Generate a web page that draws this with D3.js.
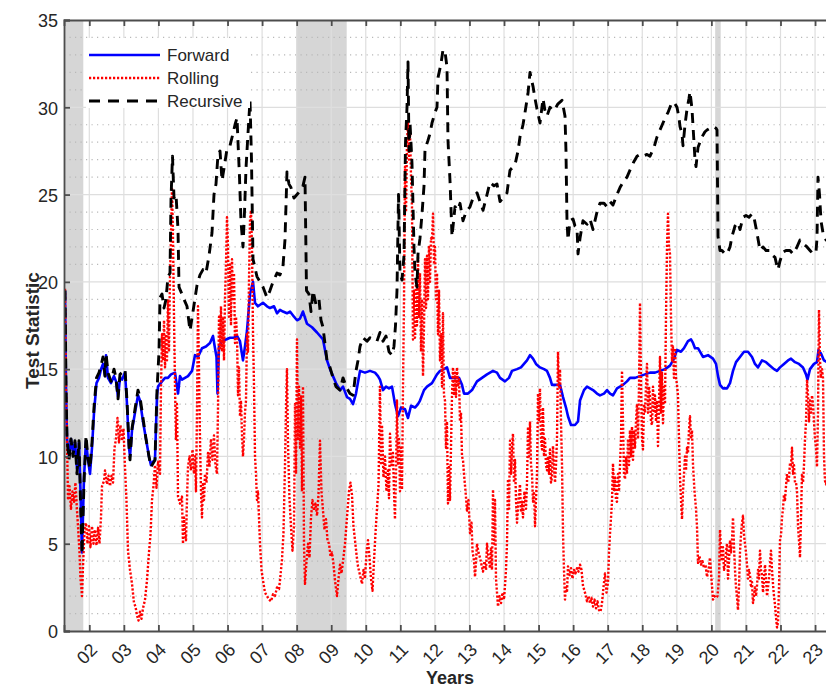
<!DOCTYPE html>
<meta charset="utf-8">
<style>
    body { margin: 0; padding: 0; background: #fff; }
    text { font-family: "Liberation Sans", Arial, sans-serif; fill: #262626; }
    .grid-major { stroke: #dedede; stroke-width: 1.2; }
    .grid-minor { stroke: #b8b8b8; stroke-width: 1.2; stroke-dasharray: 1.2,4.3; }
</style>
<body>
<script src="https://d3js.org/d3.v7.min.js"></script>
<script>
    // Test statistics, [decimal year, value]
    var forwardData = [[2001.297,19.5],[2001.326,14],[2001.355,11],[2001.413,10.0],[2001.470,11.0],[2001.528,10.3],[2001.586,10.8],[2001.644,9.3],[2001.702,10.8],[2001.745,8],[2001.789,4.5],[2001.847,8.8],[2001.905,10.9],[2001.962,9.8],[2002.020,9.0],[2002.078,10.5],[2002.136,12.5],[2002.208,14.2],[2002.281,14.5],[2002.339,15.0],[2002.397,15.3],[2002.455,14.6],[2002.484,15.8],[2002.541,14.5],[2002.628,14.2],[2002.715,14.6],[2002.773,14.3],[2002.831,13.4],[2002.888,14.5],[2002.946,14.4],[2003.033,14.8],[2003.091,13.0],[2003.149,10.5],[2003.178,10.0],[2003.236,11.5],[2003.322,12.5],[2003.409,13.5],[2003.467,13.2],[2003.554,12.0],[2003.641,11.0],[2003.727,10.0],[2003.785,9.5],[2003.843,9.7],[2003.901,9.8],[2003.959,13.5],[2003.988,14.0],[2004.104,14.3],[2004.191,14.5],[2004.277,14.5],[2004.364,14.7],[2004.480,14.8],[2004.567,13.6],[2004.624,14.6],[2004.682,14.4],[2004.769,14.5],[2004.856,14.6],[2004.972,14.9],[2005.058,15.8],[2005.145,15.7],[2005.261,16.2],[2005.377,16.3],[2005.492,16.5],[2005.579,16.9],[2005.637,16.2],[2005.681,15.7],[2005.710,13.6],[2005.753,16.3],[2005.840,16.6],[2005.955,16.7],[2006.071,16.8],[2006.187,16.8],[2006.274,16.9],[2006.360,16.6],[2006.447,15.5],[2006.505,16.3],[2006.563,17.2],[2006.650,19.3],[2006.737,20.0],[2006.795,18.8],[2006.881,18.6],[2007.026,18.8],[2007.142,18.6],[2007.228,18.5],[2007.344,18.6],[2007.431,18.2],[2007.518,18.4],[2007.604,18.3],[2007.720,18.2],[2007.807,18.3],[2007.923,18.0],[2008.010,17.8],[2008.097,17.9],[2008.183,18.3],[2008.299,17.6],[2008.444,17.4],[2008.589,17.1],[2008.762,16.7],[2008.878,15.5],[2008.965,15.0],[2009.051,14.6],[2009.138,14.2],[2009.254,13.8],[2009.341,14.0],[2009.456,13.4],[2009.543,13.3],[2009.630,13.0],[2009.717,13.6],[2009.833,14.9],[2009.977,14.8],[2010.122,14.9],[2010.267,14.8],[2010.353,14.6],[2010.411,14.4],[2010.498,13.8],[2010.585,14.0],[2010.672,13.9],[2010.759,14.0],[2010.845,13.0],[2010.932,12.3],[2011.019,12.8],[2011.135,12.7],[2011.222,12.2],[2011.309,12.9],[2011.424,12.8],[2011.511,13.0],[2011.569,13.2],[2011.685,13.8],[2011.772,14.0],[2011.916,14.2],[2012.061,14.7],[2012.148,14.9],[2012.263,15.0],[2012.350,15.1],[2012.437,14.5],[2012.582,14.5],[2012.697,14.5],[2012.784,14.1],[2012.842,13.6],[2012.958,13.6],[2013.074,13.8],[2013.218,14.3],[2013.363,14.5],[2013.508,14.7],[2013.681,14.9],[2013.797,14.8],[2013.884,14.5],[2014.028,14.3],[2014.144,14.5],[2014.231,14.9],[2014.376,15.0],[2014.491,15.1],[2014.578,15.3],[2014.665,15.5],[2014.752,15.8],[2014.839,15.6],[2014.925,15.3],[2015.041,15.1],[2015.157,15.0],[2015.244,14.9],[2015.330,14.5],[2015.388,14.1],[2015.504,14.1],[2015.620,14.1],[2015.707,13.4],[2015.793,12.8],[2015.851,12.3],[2015.938,11.8],[2016.054,11.8],[2016.141,12.0],[2016.199,13.2],[2016.314,13.8],[2016.401,14.0],[2016.488,13.9],[2016.575,13.8],[2016.690,13.6],[2016.777,13.5],[2016.893,13.6],[2016.980,13.8],[2017.067,13.6],[2017.153,13.5],[2017.269,13.9],[2017.356,14.0],[2017.443,14.1],[2017.558,14.3],[2017.645,14.5],[2017.790,14.5],[2017.935,14.6],[2018.079,14.7],[2018.224,14.8],[2018.369,14.8],[2018.513,14.9],[2018.658,15.0],[2018.803,15.2],[2018.918,15.6],[2019.005,16.1],[2019.121,16.0],[2019.208,16.2],[2019.323,16.6],[2019.410,16.7],[2019.468,16.5],[2019.526,16.2],[2019.613,16.2],[2019.671,16.0],[2019.757,15.7],[2019.902,15.8],[2020.047,15.6],[2020.134,15.3],[2020.192,14.6],[2020.250,14.1],[2020.336,13.9],[2020.452,13.9],[2020.539,14.2],[2020.626,14.9],[2020.713,15.4],[2020.828,15.7],[2020.944,16.0],[2021.060,16.0],[2021.176,15.7],[2021.262,15.3],[2021.349,15.1],[2021.465,15.5],[2021.581,15.4],[2021.696,15.2],[2021.812,15.0],[2021.899,14.9],[2021.986,15.1],[2022.101,15.3],[2022.217,15.5],[2022.304,15.6],[2022.420,15.4],[2022.535,15.3],[2022.651,15.1],[2022.738,14.7],[2022.781,14.4],[2022.854,15.0],[2022.969,15.3],[2023.056,15.4],[2023.100,16.1],[2023.172,15.9],[2023.259,15.5],[2023.346,15.4],[2023.462,15.5]];

    var rollingData = [[2001.297,19.6],[2001.326,14],[2001.355,11],[2001.384,7.5],[2001.427,8.3],[2001.470,7.0],[2001.513,8.0],[2001.557,7.4],[2001.600,8.5],[2001.644,6.9],[2001.673,6.0],[2001.716,4.5],[2001.745,3.0],[2001.789,2.0],[2001.818,3.7],[2001.861,5.8],[2001.905,6.2],[2001.948,5.0],[2001.991,6.0],[2002.034,4.8],[2002.078,6.0],[2002.121,5.0],[2002.165,5.8],[2002.208,4.9],[2002.252,5.9],[2002.295,5.0],[2002.339,6.5],[2002.368,8.3],[2002.426,8.6],[2002.455,9.2],[2002.512,8.4],[2002.556,8.9],[2002.599,8.3],[2002.642,8.9],[2002.686,8.5],[2002.729,10.5],[2002.773,11.0],[2002.816,12.2],[2002.859,10.8],[2002.902,11.8],[2002.946,10.9],[2002.989,11.6],[2003.033,9.4],[2003.076,7.5],[2003.120,4.6],[2003.178,3.5],[2003.236,2.7],[2003.294,1.6],[2003.337,1.4],[2003.380,0.9],[2003.424,0.6],[2003.467,1.1],[2003.510,0.7],[2003.554,1.3],[2003.612,1.8],[2003.669,2.9],[2003.727,4.5],[2003.770,5.5],[2003.814,7.5],[2003.857,8.3],[2003.901,9.5],[2003.944,8.2],[2003.988,9.7],[2004.046,9.0],[2004.075,14.0],[2004.104,17.0],[2004.133,15.5],[2004.162,17.8],[2004.191,15.1],[2004.219,17.0],[2004.248,15.5],[2004.277,19.0],[2004.306,16.0],[2004.335,20.3],[2004.364,22.5],[2004.393,25.4],[2004.422,22.5],[2004.451,18.0],[2004.480,14.0],[2004.509,11.0],[2004.538,13.0],[2004.567,7.7],[2004.624,7.3],[2004.682,7.7],[2004.711,5.0],[2004.740,6.5],[2004.769,5.6],[2004.798,5.2],[2004.827,7.5],[2004.856,9.4],[2004.899,10.0],[2004.943,9.2],[2004.986,10.4],[2005.030,9.0],[2005.058,10.0],[2005.087,8.0],[2005.116,12.5],[2005.145,18.6],[2005.174,15.0],[2005.203,11.0],[2005.232,8.0],[2005.261,6.5],[2005.290,8.5],[2005.319,7.5],[2005.348,9.0],[2005.391,8.5],[2005.434,10.2],[2005.478,9.4],[2005.521,11.0],[2005.564,9.8],[2005.608,11.2],[2005.651,9.5],[2005.695,9.0],[2005.724,12.8],[2005.753,18.0],[2005.782,16.2],[2005.811,18.6],[2005.840,16.0],[2005.869,18.0],[2005.898,15.5],[2005.926,19.0],[2005.955,21.0],[2005.984,23.7],[2006.013,22.0],[2006.042,18.0],[2006.071,21.0],[2006.100,17.5],[2006.129,21.3],[2006.158,19.0],[2006.187,20.5],[2006.216,16.5],[2006.245,18.0],[2006.274,16.9],[2006.303,13.5],[2006.331,15.1],[2006.360,12.3],[2006.389,13.2],[2006.418,11.3],[2006.447,10.0],[2006.476,11.0],[2006.505,12.5],[2006.534,13.2],[2006.563,17.0],[2006.592,16.0],[2006.621,20.0],[2006.650,23.5],[2006.679,24.1],[2006.708,22.0],[2006.737,17.1],[2006.766,14.0],[2006.795,10.0],[2006.824,9.0],[2006.852,7.5],[2006.881,8.0],[2006.910,6.5],[2006.939,5.0],[2006.982,3.5],[2007.026,2.9],[2007.084,2.2],[2007.142,2.0],[2007.199,1.8],[2007.257,1.7],[2007.315,2.1],[2007.373,2.0],[2007.431,2.5],[2007.489,2.4],[2007.518,2.9],[2007.576,4.1],[2007.619,5.6],[2007.662,9.4],[2007.691,12.5],[2007.720,15.0],[2007.749,10.8],[2007.792,7.6],[2007.836,6.0],[2007.879,4.6],[2007.923,6.0],[2007.952,13.0],[2007.981,9.0],[2008.010,16.7],[2008.039,11.0],[2008.068,14.0],[2008.097,10.5],[2008.126,13.5],[2008.155,8.0],[2008.183,14.0],[2008.212,5.0],[2008.241,2.7],[2008.285,4.0],[2008.328,5.0],[2008.372,4.2],[2008.415,6.5],[2008.458,7.5],[2008.502,6.9],[2008.545,7.3],[2008.589,6.6],[2008.632,7.8],[2008.675,10.9],[2008.718,8.0],[2008.762,6.9],[2008.805,5.8],[2008.849,6.4],[2008.892,5.2],[2008.936,5.0],[2008.979,4.3],[2009.023,4.5],[2009.066,3.8],[2009.109,2.9],[2009.167,2.0],[2009.211,3.0],[2009.254,3.8],[2009.297,3.3],[2009.341,4.0],[2009.399,5.0],[2009.456,6.5],[2009.514,8.0],[2009.557,8.5],[2009.601,7.8],[2009.644,6.0],[2009.688,5.2],[2009.731,4.4],[2009.775,3.7],[2009.833,3.2],[2009.891,2.7],[2009.934,3.5],[2009.977,3.0],[2010.021,4.5],[2010.064,5.2],[2010.108,4.2],[2010.151,3.0],[2010.194,2.3],[2010.238,4.0],[2010.281,5.6],[2010.324,7.0],[2010.368,8.3],[2010.411,14.0],[2010.440,9.5],[2010.469,11.8],[2010.512,8.8],[2010.556,10.0],[2010.599,8.0],[2010.643,9.2],[2010.672,7.6],[2010.701,11.3],[2010.744,9.5],[2010.788,10.2],[2010.816,8.0],[2010.845,6.4],[2010.874,9.0],[2010.903,13.2],[2010.932,9.5],[2010.961,11.0],[2010.990,8.0],[2011.019,10.5],[2011.048,8.1],[2011.077,14.0],[2011.106,19.0],[2011.135,26.6],[2011.164,24.0],[2011.193,28.0],[2011.222,29.1],[2011.251,27.0],[2011.280,28.5],[2011.309,26.0],[2011.337,24.3],[2011.366,16.7],[2011.395,19.5],[2011.424,16.8],[2011.453,20.0],[2011.482,17.5],[2011.511,21.4],[2011.540,18.0],[2011.569,20.5],[2011.598,16.0],[2011.627,19.0],[2011.656,14.6],[2011.685,17.5],[2011.714,21.3],[2011.743,18.5],[2011.772,21.5],[2011.800,19.0],[2011.829,22.0],[2011.858,20.0],[2011.887,22.5],[2011.916,22.4],[2011.945,23.9],[2011.974,21.0],[2012.003,22.0],[2012.032,19.0],[2012.061,20.5],[2012.090,17.0],[2012.119,19.5],[2012.148,15.5],[2012.177,17.0],[2012.206,14.0],[2012.234,18.2],[2012.263,13.5],[2012.292,13.2],[2012.321,10.5],[2012.350,12.0],[2012.379,7.3],[2012.408,9.5],[2012.437,7.5],[2012.466,10.5],[2012.495,13.5],[2012.524,15.1],[2012.553,13.5],[2012.582,14.8],[2012.611,13.4],[2012.640,15.1],[2012.669,14.0],[2012.697,14.5],[2012.726,12.0],[2012.755,12.5],[2012.784,10.0],[2012.813,9.8],[2012.842,9.0],[2012.886,8.0],[2012.929,6.9],[2012.972,7.5],[2013.016,5.6],[2013.059,6.2],[2013.088,4.6],[2013.132,4.0],[2013.161,3.1],[2013.190,4.0],[2013.218,5.0],[2013.262,4.5],[2013.305,4.2],[2013.348,3.8],[2013.392,3.4],[2013.435,4.0],[2013.479,3.5],[2013.508,5.0],[2013.551,4.2],[2013.594,3.6],[2013.623,4.8],[2013.652,3.5],[2013.681,8.1],[2013.710,5.0],[2013.739,7.5],[2013.768,3.0],[2013.797,2.2],[2013.826,1.4],[2013.869,2.0],[2013.913,1.6],[2013.956,2.2],[2014.000,1.8],[2014.028,2.6],[2014.057,3.5],[2014.086,5.0],[2014.115,8.7],[2014.144,7.0],[2014.173,10.9],[2014.202,9.0],[2014.231,10.6],[2014.260,11.3],[2014.289,8.5],[2014.318,9.8],[2014.347,7.5],[2014.376,6.2],[2014.419,7.5],[2014.462,8.4],[2014.491,6.8],[2014.520,7.4],[2014.549,6.5],[2014.592,8.0],[2014.636,7.0],[2014.665,8.5],[2014.694,11.7],[2014.723,10.0],[2014.752,12.0],[2014.781,9.5],[2014.810,9.0],[2014.839,7.4],[2014.868,8.0],[2014.897,6.0],[2014.925,7.5],[2014.954,9.0],[2014.983,13.6],[2015.012,12.0],[2015.041,13.9],[2015.070,11.0],[2015.099,10.4],[2015.128,12.8],[2015.157,10.0],[2015.186,11.0],[2015.215,9.5],[2015.244,9.2],[2015.272,10.0],[2015.301,9.0],[2015.330,10.4],[2015.359,8.5],[2015.388,8.8],[2015.417,10.6],[2015.446,9.5],[2015.475,8.5],[2015.504,9.5],[2015.533,11.0],[2015.562,16.0],[2015.591,14.0],[2015.620,15.0],[2015.649,12.0],[2015.678,9.5],[2015.707,5.6],[2015.736,3.5],[2015.764,1.8],[2015.793,2.5],[2015.822,2.2],[2015.851,3.7],[2015.895,3.2],[2015.938,3.6],[2015.981,3.0],[2016.025,3.5],[2016.068,3.3],[2016.112,3.6],[2016.155,3.4],[2016.199,3.8],[2016.242,3.5],[2016.285,2.6],[2016.343,2.2],[2016.401,1.7],[2016.444,2.0],[2016.488,1.6],[2016.531,1.9],[2016.575,1.4],[2016.618,1.8],[2016.662,1.3],[2016.705,1.7],[2016.748,1.2],[2016.791,1.1],[2016.835,1.6],[2016.878,2.5],[2016.922,3.3],[2016.965,2.2],[2017.009,2.8],[2017.038,4.5],[2017.067,5.6],[2017.096,6.5],[2017.124,7.4],[2017.153,9.6],[2017.182,8.0],[2017.211,8.8],[2017.240,7.5],[2017.269,7.4],[2017.298,9.0],[2017.327,8.0],[2017.356,9.5],[2017.385,11.0],[2017.414,14.9],[2017.443,12.0],[2017.472,9.0],[2017.501,8.7],[2017.530,10.0],[2017.558,9.0],[2017.587,11.0],[2017.616,9.5],[2017.645,11.5],[2017.674,10.0],[2017.703,11.7],[2017.732,9.8],[2017.761,11.5],[2017.790,10.5],[2017.819,12.0],[2017.848,13.0],[2017.877,11.0],[2017.906,14.0],[2017.935,18.8],[2017.964,14.0],[2017.993,11.0],[2018.021,10.4],[2018.050,13.0],[2018.079,12.5],[2018.108,14.0],[2018.137,15.3],[2018.166,12.5],[2018.195,14.0],[2018.224,13.5],[2018.253,12.0],[2018.282,11.8],[2018.311,14.0],[2018.340,12.5],[2018.369,13.5],[2018.398,12.0],[2018.427,13.2],[2018.455,10.6],[2018.484,13.0],[2018.513,15.7],[2018.542,12.5],[2018.571,14.8],[2018.600,11.9],[2018.629,14.0],[2018.658,13.0],[2018.687,18.0],[2018.716,22.0],[2018.745,23.9],[2018.774,22.0],[2018.803,21.6],[2018.832,18.0],[2018.860,15.5],[2018.889,16.3],[2018.918,14.5],[2018.947,16.2],[2018.976,14.5],[2019.005,14.1],[2019.034,13.5],[2019.063,11.0],[2019.092,8.8],[2019.121,7.5],[2019.150,6.4],[2019.179,8.0],[2019.208,9.0],[2019.237,10.0],[2019.266,9.2],[2019.295,10.5],[2019.323,10.2],[2019.352,11.5],[2019.381,12.3],[2019.410,11.0],[2019.439,11.5],[2019.468,9.5],[2019.512,8.0],[2019.555,7.0],[2019.584,6.0],[2019.613,3.9],[2019.656,4.3],[2019.700,3.8],[2019.743,4.0],[2019.786,3.6],[2019.830,3.8],[2019.873,3.1],[2019.917,3.5],[2019.960,4.2],[2020.003,3.0],[2020.047,1.8],[2020.090,2.0],[2020.134,1.9],[2020.177,2.0],[2020.221,3.0],[2020.250,5.8],[2020.279,4.5],[2020.307,4.0],[2020.336,4.8],[2020.365,3.5],[2020.394,3.8],[2020.423,4.5],[2020.452,5.0],[2020.481,3.0],[2020.510,4.0],[2020.539,5.2],[2020.568,4.5],[2020.597,5.2],[2020.626,6.5],[2020.655,4.8],[2020.684,3.5],[2020.713,2.5],[2020.741,2.0],[2020.770,1.2],[2020.799,2.5],[2020.828,4.5],[2020.857,5.5],[2020.886,6.2],[2020.915,6.6],[2020.944,5.5],[2020.973,5.0],[2021.002,4.5],[2021.031,3.8],[2021.060,3.0],[2021.089,3.5],[2021.118,3.2],[2021.147,2.5],[2021.176,2.8],[2021.204,1.6],[2021.233,2.0],[2021.262,2.5],[2021.291,2.0],[2021.320,2.6],[2021.349,3.5],[2021.378,3.0],[2021.407,4.6],[2021.436,3.5],[2021.465,3.2],[2021.494,2.2],[2021.523,3.0],[2021.552,3.8],[2021.581,3.0],[2021.610,2.0],[2021.638,2.5],[2021.667,3.0],[2021.696,3.8],[2021.725,4.6],[2021.754,3.5],[2021.783,2.7],[2021.812,2.0],[2021.841,1.5],[2021.870,0.8],[2021.899,0.2],[2021.928,0.5],[2021.957,2.5],[2021.986,5.2],[2022.015,5.5],[2022.044,6.5],[2022.072,7.0],[2022.101,7.8],[2022.130,7.5],[2022.159,8.3],[2022.188,9.0],[2022.217,8.5],[2022.246,8.8],[2022.275,9.6],[2022.304,9.5],[2022.333,10.5],[2022.362,9.0],[2022.391,9.5],[2022.420,8.5],[2022.449,8.5],[2022.478,8.0],[2022.507,6.0],[2022.535,5.2],[2022.564,4.2],[2022.593,6.5],[2022.622,9.0],[2022.651,8.5],[2022.680,9.5],[2022.709,11.0],[2022.738,12.0],[2022.767,14.4],[2022.796,13.5],[2022.825,12.0],[2022.854,13.2],[2022.883,12.5],[2022.912,13.5],[2022.941,13.0],[2022.969,12.0],[2022.998,11.0],[2023.027,10.5],[2023.056,9.4],[2023.085,12.5],[2023.114,18.4],[2023.143,15.5],[2023.172,14.5],[2023.201,15.0],[2023.230,14.5],[2023.259,10.0],[2023.288,8.6],[2023.317,8.4],[2023.375,9.0]];

    var recursiveData = [[2001.297,19.5],[2001.326,14],[2001.355,11],[2001.413,9.8],[2001.470,11.0],[2001.528,10.0],[2001.586,10.9],[2001.644,9.0],[2001.702,10.9],[2001.745,7.5],[2001.789,4.4],[2001.847,8.5],[2001.905,11.2],[2001.962,9.9],[2002.020,9.3],[2002.078,10.8],[2002.136,12.8],[2002.208,14.5],[2002.281,14.8],[2002.339,15.2],[2002.397,15.7],[2002.455,14.6],[2002.484,15.9],[2002.541,14.8],[2002.628,14.3],[2002.715,15.0],[2002.773,14.5],[2002.831,13.3],[2002.888,14.7],[2002.946,14.8],[2003.033,15.0],[2003.091,13.2],[2003.149,10.6],[2003.178,9.8],[2003.236,11.6],[2003.322,12.7],[2003.409,13.8],[2003.467,13.4],[2003.554,12.2],[2003.641,11.0],[2003.727,10.0],[2003.785,9.4],[2003.843,9.6],[2003.901,9.8],[2003.959,13.8],[2004.017,16],[2004.046,19.1],[2004.104,19.3],[2004.162,18.5],[2004.219,19.0],[2004.277,20.3],[2004.335,20.5],[2004.364,24.7],[2004.407,27.2],[2004.451,24.8],[2004.509,25.0],[2004.567,23.0],[2004.596,19.7],[2004.682,19.3],[2004.740,19.0],[2004.827,18.6],[2004.914,17.2],[2005.001,18.3],[2005.116,19.8],[2005.203,20.4],[2005.290,20.7],[2005.377,20.5],[2005.464,21.5],[2005.550,22.8],[2005.608,25.0],[2005.666,25.6],[2005.724,27.3],[2005.782,27.5],[2005.840,25.8],[2005.898,26.5],[2005.984,27.6],[2006.071,27.8],[2006.158,28.5],[2006.216,29.0],[2006.274,29.4],[2006.303,28.0],[2006.346,26.0],[2006.389,23.5],[2006.447,22.0],[2006.491,24.0],[2006.534,26.5],[2006.592,28.5],[2006.650,30.4],[2006.693,27.0],[2006.737,21.3],[2006.795,20.8],[2006.852,20.3],[2006.939,20.0],[2007.026,19.7],[2007.142,19.1],[2007.228,19.5],[2007.315,20.0],[2007.431,20.5],[2007.518,20.4],[2007.604,20.9],[2007.662,22.4],[2007.720,26.3],[2007.778,25.6],[2007.836,25.4],[2007.923,24.8],[2008.010,25.0],[2008.097,25.2],[2008.183,25.5],[2008.241,26.0],[2008.285,19.5],[2008.357,19.3],[2008.415,18.3],[2008.473,19.5],[2008.560,18.7],[2008.646,19.0],[2008.704,17.8],[2008.762,17.4],[2008.878,15.5],[2008.965,15.1],[2009.051,14.5],[2009.138,14.0],[2009.254,13.8],[2009.341,14.5],[2009.456,13.9],[2009.543,13.6],[2009.630,13.5],[2009.717,14.9],[2009.775,15.5],[2009.833,16.3],[2009.920,16.8],[2010.035,16.6],[2010.122,16.8],[2010.209,16.7],[2010.324,16.6],[2010.411,17.1],[2010.498,16.6],[2010.585,16.9],[2010.672,16.0],[2010.759,15.8],[2010.816,16.3],[2010.860,17.5],[2010.903,19.5],[2010.947,25.0],[2010.990,20.5],[2011.048,20.1],[2011.106,21.5],[2011.150,28.0],[2011.193,30.0],[2011.222,32.6],[2011.251,27.5],[2011.280,29.1],[2011.337,26.8],[2011.395,22.0],[2011.424,20.5],[2011.482,19.7],[2011.511,21.6],[2011.569,22.5],[2011.627,23.9],[2011.685,25.5],[2011.714,27.6],[2011.800,28.1],[2011.858,28.5],[2011.916,29.1],[2012.003,29.7],[2012.061,30.0],[2012.090,31.7],[2012.177,32.5],[2012.234,33.3],[2012.292,33.2],[2012.350,32.3],[2012.379,28.1],[2012.437,25.8],[2012.495,22.6],[2012.582,24.3],[2012.669,24.1],[2012.726,24.5],[2012.813,23.5],[2012.900,24.0],[2013.016,24.3],[2013.103,24.8],[2013.218,25.1],[2013.305,24.6],[2013.392,24.1],[2013.508,25.0],[2013.594,25.7],[2013.710,25.5],[2013.797,25.6],[2013.884,24.6],[2014.000,24.9],[2014.086,25.1],[2014.173,26.4],[2014.318,26.7],[2014.405,27.5],[2014.462,28.3],[2014.549,29.0],[2014.607,29.7],[2014.694,30.8],[2014.752,32.0],[2014.839,31.2],[2014.897,30.5],[2014.954,29.9],[2015.041,29.1],[2015.128,30.5],[2015.186,29.8],[2015.244,29.5],[2015.330,30.0],[2015.417,29.8],[2015.504,30.0],[2015.562,30.2],[2015.678,30.4],[2015.764,29.5],[2015.793,27.5],[2015.822,23.5],[2015.851,22.4],[2015.909,23.5],[2015.996,23.6],[2016.054,23.2],[2016.112,23.1],[2016.141,21.6],[2016.199,22.5],[2016.285,23.5],[2016.401,23.3],[2016.488,23.6],[2016.575,23.0],[2016.690,24.0],[2016.777,24.5],[2016.893,24.5],[2016.980,24.3],[2017.067,24.6],[2017.153,24.4],[2017.269,25.0],[2017.356,25.4],[2017.443,25.7],[2017.558,26.0],[2017.645,26.4],[2017.761,26.9],[2017.848,27.2],[2017.935,27.3],[2018.021,27.2],[2018.137,27.3],[2018.224,27.2],[2018.340,27.7],[2018.427,28.3],[2018.513,28.7],[2018.600,29.1],[2018.687,29.5],[2018.745,29.7],[2018.803,30.0],[2018.860,30.3],[2018.947,30.2],[2019.005,30.0],[2019.063,29.4],[2019.092,28.9],[2019.150,28.5],[2019.179,27.8],[2019.237,29.0],[2019.295,29.9],[2019.352,30.5],[2019.381,30.9],[2019.439,29.9],[2019.497,28.0],[2019.526,27.0],[2019.555,26.6],[2019.613,27.7],[2019.671,28.0],[2019.728,28.3],[2019.815,28.6],[2019.873,28.7],[2019.960,28.8],[2020.047,28.9],[2020.134,28.8],[2020.163,28.7],[2020.192,22.6],[2020.250,21.8],[2020.307,21.8],[2020.394,21.6],[2020.452,21.6],[2020.539,22.0],[2020.597,22.6],[2020.684,23.2],[2020.770,23.4],[2020.828,23.0],[2020.915,23.7],[2021.002,23.8],[2021.089,23.7],[2021.176,23.9],[2021.233,23.7],[2021.320,22.8],[2021.407,21.8],[2021.494,22.0],[2021.581,21.8],[2021.696,21.8],[2021.783,21.5],[2021.841,21.4],[2021.899,20.9],[2021.928,20.7],[2021.986,21.2],[2022.072,21.7],[2022.159,21.8],[2022.275,21.8],[2022.362,21.6],[2022.478,22.0],[2022.564,22.4],[2022.651,22.2],[2022.767,22.0],[2022.854,21.8],[2022.941,21.6],[2023.027,21.7],[2023.056,22.5],[2023.085,26.0],[2023.129,25.0],[2023.172,23.5],[2023.230,22.8],[2023.317,22.4],[2023.432,22.5]];

    // NBER recession periods (shaded)
    var recessions = [[2001.268, 2001.826], [2007.99, 2009.448], [2020.11, 2020.27]];

    var xTickYears = d3.range(2002, 2024);
    var yTicks = [0, 5, 10, 15, 20, 25, 30, 35];
    var yMinorTicks = d3.range(1, 35).filter(function(v) { return v % 5 !== 0; });

    var seriesList = [
        {name: "Forward",   data: forwardData,   color: "#0000ff", width: 2.6, dash: null},
        {name: "Rolling",   data: rollingData,   color: "#ff0000", width: 2.4, dash: "2.2,1.8"},
        {name: "Recursive", data: recursiveData, color: "#000000", width: 2.9, dash: "10,7"}
    ];

    var W = 826, H = 687;
    var margin = {top: 20, right: -10, bottom: 56, left: 64};
    var plotW = W - margin.left - margin.right,
        plotH = H - margin.top - margin.bottom;

    var x = d3.scaleLinear().domain([2001.268, 2023.606]).range([0, plotW]);
    var y = d3.scaleLinear().domain([0, 35]).range([plotH, 0]);

    var svg = d3.select("body").append("svg")
        .attr("width", W)
        .attr("height", H);

    svg.append("defs").append("clipPath").attr("id", "plot-clip")
        .append("rect").attr("width", plotW).attr("height", plotH);

    var g = svg.append("g").attr("transform", "translate(" + margin.left + "," + margin.top + ")");

    // recession shading
    g.append("g").selectAll("rect")
        .data(recessions)
        .enter().append("rect")
        .attr("x", function(d) { return x(d[0]); })
        .attr("width", function(d) { return x(d[1]) - x(d[0]); })
        .attr("y", 0)
        .attr("height", plotH)
        .style("fill", "#d6d6d6");

    // grid
    var grid = g.append("g");
    grid.selectAll(".ym").data(yMinorTicks).enter().append("line")
        .attr("class", "grid-minor")
        .attr("x1", 0).attr("x2", plotW)
        .attr("y1", function(d) { return y(d); })
        .attr("y2", function(d) { return y(d); });
    grid.selectAll(".yM").data(yTicks.slice(1, -1)).enter().append("line")
        .attr("class", "grid-major")
        .attr("x1", 0).attr("x2", plotW)
        .attr("y1", function(d) { return y(d); })
        .attr("y2", function(d) { return y(d); });
    grid.selectAll(".xM").data(xTickYears).enter().append("line")
        .attr("class", "grid-major")
        .attr("y1", 0).attr("y2", plotH)
        .attr("x1", function(d) { return x(d); })
        .attr("x2", function(d) { return x(d); });

    // series
    var line = d3.line()
        .x(function(d) { return x(d[0]); })
        .y(function(d) { return y(d[1]); });

    g.append("g").attr("clip-path", "url(#plot-clip)")
        .selectAll("path")
        .data(seriesList)
        .enter().append("path")
        .attr("d", function(s) { return line(s.data); })
        .style("fill", "none")
        .style("stroke", function(s) { return s.color; })
        .style("stroke-width", function(s) { return s.width; })
        .style("stroke-dasharray", function(s) { return s.dash; })
        .style("stroke-linejoin", "round");

    // axes box
    var axisColor = "#4d4d4d";
    var xAxis = d3.axisBottom(x).tickValues(xTickYears).tickSize(-6).tickFormat("");
    var xAxisTop = d3.axisTop(x).tickValues(xTickYears).tickSize(-6).tickFormat("");
    var yAxis = d3.axisLeft(y).tickValues(yTicks).tickSize(-6).tickFormat("");

    var gx = g.append("g").attr("transform", "translate(0," + plotH + ")").call(xAxis);
    var gxt = g.append("g").call(xAxisTop);
    var gy = g.append("g").call(yAxis);
    [gx, gxt, gy].forEach(function(a) {
        a.select(".domain").attr("stroke", axisColor).attr("stroke-width", 1.8);
        a.selectAll(".tick line").attr("stroke", axisColor).attr("stroke-width", 1.8);
    });

    // tick labels
    g.append("g").selectAll("text")
        .data(yTicks)
        .enter().append("text")
        .attr("x", -6)
        .attr("y", function(d) { return y(d) + 1; })
        .attr("dy", "0.35em")
        .attr("text-anchor", "end")
        .style("font-size", "18px")
        .text(function(d) { return d; });

    g.append("g").selectAll("text")
        .data(xTickYears)
        .enter().append("text")
        .attr("transform", function(d) { return "translate(" + (x(d) + 9) + "," + (plotH + 20) + ") rotate(-45)"; })
        .attr("text-anchor", "end")
        .style("font-size", "18px")
        .text(function(d) { return d3.format("02d")(d % 100); });

    // axis titles
    svg.append("text")
        .attr("transform", "translate(39," + (margin.top + plotH / 2 + 5) + ") rotate(-90)")
        .attr("text-anchor", "middle")
        .style("font-size", "19px")
        .style("font-weight", "bold")
        .text("Test Statistic");

    svg.append("text")
        .attr("x", 450)
        .attr("y", 684)
        .attr("text-anchor", "middle")
        .style("font-size", "18px")
        .style("font-weight", "bold")
        .text("Years");

    // legend
    var legend = g.append("g").attr("transform", "translate(22,18)");
    legend.append("rect")
        .attr("x", 0).attr("y", 0)
        .attr("width", 164).attr("height", 70)
        .style("fill", "#fff");
    var items = legend.selectAll(".item")
        .data(seriesList)
        .enter().append("g")
        .attr("transform", function(d, i) { return "translate(0," + (17 + i * 23) + ")"; });
    items.append("line")
        .attr("x1", 3).attr("x2", 74)
        .style("stroke", function(s) { return s.color; })
        .style("stroke-width", function(s) { return s.width; })
        .style("stroke-dasharray", function(s) { return s.name === "Recursive" ? "11,8" : s.dash; });
    items.append("text")
        .attr("x", 81)
        .attr("dy", "0.35em")
        .style("font-size", "17px")
        .text(function(s) { return s.name; });
</script>
</body>
</html>
